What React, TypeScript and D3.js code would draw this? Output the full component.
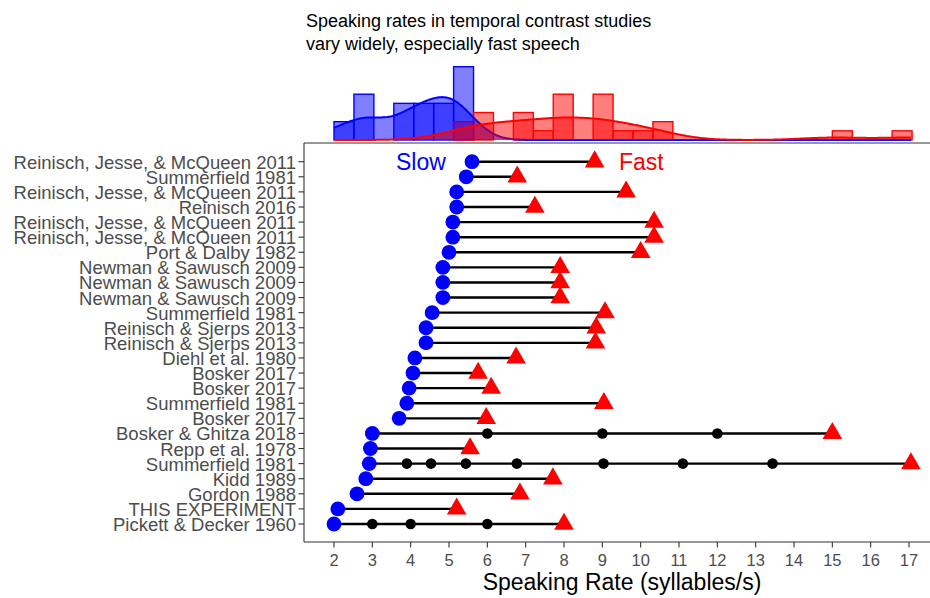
import React, { useEffect, useRef } from 'react';
import * as d3 from 'd3';

// rows, top to bottom
const studies = [
  'Reinisch, Jesse, & McQueen 2011',
  'Summerfield 1981',
  'Reinisch, Jesse, & McQueen 2011',
  'Reinisch 2016',
  'Reinisch, Jesse, & McQueen 2011',
  'Reinisch, Jesse, & McQueen 2011',
  'Port & Dalby 1982',
  'Newman & Sawusch 2009',
  'Newman & Sawusch 2009',
  'Newman & Sawusch 2009',
  'Summerfield 1981',
  'Reinisch & Sjerps 2013',
  'Reinisch & Sjerps 2013',
  'Diehl et al. 1980',
  'Bosker 2017',
  'Bosker 2017',
  'Summerfield 1981',
  'Bosker 2017',
  'Bosker & Ghitza 2018',
  'Repp et al. 1978',
  'Summerfield 1981',
  'Kidd 1989',
  'Gordon 1988',
  'THIS EXPERIMENT',
  'Pickett & Decker 1960',
];

const slowRates = [
  5.6, 5.45, 5.2, 5.2, 5.1, 5.1, 5.0, 4.84, 4.84, 4.84, 4.56, 4.4, 4.4,
  4.11, 4.06, 3.96, 3.9, 3.7, 3.0, 2.95, 2.92, 2.83, 2.6, 2.1, 2.0,
];

const fastRates = [
  8.8, 6.78, 9.62, 7.24, 10.35, 10.35, 10.0, 7.9, 7.9, 7.9, 9.07, 8.84, 8.82,
  6.75, 5.76, 6.1, 9.04, 5.97, 15.0, 5.55, 17.05, 7.71, 6.85, 5.2, 8.0,
];

// intermediate rates (row index -> values)
const midRows = [18, 20, 24];
const midRates = [
  [6, 9, 12],
  [3.9, 4.53, 5.44, 6.77, 9.03, 11.1, 13.44],
  [3, 4, 6],
];

// marginal histogram counts (bins of 0.52 starting at 2.0)
const binStart = 2.0;
const binWidth = 0.52;
const slowCounts = [2, 5, 0, 4, 4, 4, 8, 0, 0, 0, 0, 0, 0, 0, 0, 0, 0, 0, 0, 0, 0, 0, 0, 0, 0, 0, 0, 0, 0];
const fastCounts = [0, 0, 0, 0, 0, 0, 2, 3, 0, 3, 1, 5, 0, 5, 1, 1, 2, 0, 0, 0, 0, 0, 0, 0, 0, 1, 0, 0, 1];

const xTicks = d3.range(2, 18);

const FONT = '"Liberation Sans", Arial, Helvetica, sans-serif';
const BLUE = '#0000ff';
const RED = '#ff0000';

function nrd0(v: number[]) {
  const s = d3.deviation(v) as number;
  const sorted = v.slice().sort(d3.ascending);
  const iqr = (d3.quantile(sorted, 0.75) as number) - (d3.quantile(sorted, 0.25) as number);
  return 0.9 * Math.min(s, iqr / 1.34) * Math.pow(v.length, -0.2);
}

function kde(v: number[], grid: number[]) {
  const bw = nrd0(v);
  return grid.map((g) => [
    g,
    d3.mean(v, (d) => Math.exp(-0.5 * ((g - d) / bw) ** 2) / (bw * Math.sqrt(2 * Math.PI))) as number,
  ]);
}

function App() {
  const svgRef = useRef<SVGSVGElement>(null);

  useEffect(() => {
    const svg = d3.select(svgRef.current);
    svg.selectAll('*').remove();
    const width = 930;
    const height = 598;
    svg.attr('width', width).attr('height', height);

    const panel = { left: 304, right: 930, top: 143, bottom: 542 };

    const x = d3.scaleLinear().domain([2, 17]).range([334, 909]);
    const y = d3
      .scalePoint<number>()
      .domain(d3.range(studies.length))
      .range([161.7, 524]);
    const yHist = d3.scaleLinear().domain([0, 8]).range([140, 66.7]);

    // ---- marginal histogram + density
    const drawHist = (counts: number[], color: string) => {
      svg
        .append('g')
        .selectAll('rect')
        .data(counts)
        .enter()
        .append('rect')
        .attr('x', (d, i) => x(binStart + i * binWidth))
        .attr('width', x(binStart + binWidth) - x(binStart))
        .attr('y', (d) => yHist(d))
        .attr('height', (d) => yHist(0) - yHist(d))
        .attr('fill', color)
        .attr('fill-opacity', 0.5)
        .attr('stroke', color)
        .attr('stroke-width', 1.4);
    };
    drawHist(slowCounts, BLUE);
    drawHist(fastCounts, RED);

    const lo = d3.min(slowRates) as number;
    const hi = d3.max(fastRates) as number;
    const grid = d3.range(0, 513).map((i) => lo + ((hi - lo) * i) / 512);
    const drawDensity = (v: number[], color: string) => {
      const dens = kde(v, grid).map(([g, d]) => [g, d * v.length * binWidth]);
      const area = d3
        .area<number[]>()
        .x((d) => x(d[0]))
        .y0(yHist(0))
        .y1((d) => yHist(d[1]));
      const line = d3
        .line<number[]>()
        .x((d) => x(d[0]))
        .y((d) => yHist(d[1]));
      svg.append('path').attr('d', area(dens)).attr('fill', color).attr('fill-opacity', 0.5);
      svg
        .append('path')
        .attr('d', line(dens))
        .attr('fill', 'none')
        .attr('stroke', color)
        .attr('stroke-width', 2);
    };
    drawDensity(slowRates, BLUE);
    drawDensity(fastRates, RED);

    // ---- axes lines
    svg
      .append('line')
      .attr('x1', panel.left)
      .attr('x2', panel.right)
      .attr('y1', panel.top)
      .attr('y2', panel.top)
      .attr('stroke', '#333')
      .attr('stroke-width', 1.1);
    svg
      .append('line')
      .attr('x1', panel.left)
      .attr('x2', panel.right)
      .attr('y1', panel.bottom)
      .attr('y2', panel.bottom)
      .attr('stroke', '#333')
      .attr('stroke-width', 1.1);
    svg
      .append('line')
      .attr('x1', panel.left)
      .attr('x2', panel.left)
      .attr('y1', panel.top)
      .attr('y2', panel.bottom)
      .attr('stroke', '#333')
      .attr('stroke-width', 1.1);

    // x ticks
    const xg = svg.append('g');
    xg.selectAll('line')
      .data(xTicks)
      .enter()
      .append('line')
      .attr('x1', (d) => x(d))
      .attr('x2', (d) => x(d))
      .attr('y1', panel.bottom)
      .attr('y2', panel.bottom + 5.5)
      .attr('stroke', '#333')
      .attr('stroke-width', 1.1);
    xg.selectAll('text')
      .data(xTicks)
      .enter()
      .append('text')
      .attr('x', (d) => x(d))
      .attr('y', 566)
      .attr('text-anchor', 'middle')
      .attr('font-family', FONT)
      .attr('font-size', 16.5)
      .attr('fill', '#4d4d4d')
      .text((d) => d);

    svg
      .append('text')
      .attr('x', 622)
      .attr('y', 590)
      .attr('text-anchor', 'middle')
      .attr('font-family', FONT)
      .attr('font-size', 23)
      .attr('fill', '#000')
      .text('Speaking Rate (syllables/s)');

    // y ticks
    const yg = svg.append('g');
    yg.selectAll('line')
      .data(d3.range(studies.length))
      .enter()
      .append('line')
      .attr('x1', panel.left - 5.5)
      .attr('x2', panel.left)
      .attr('y1', (d) => y(d) as number)
      .attr('y2', (d) => y(d) as number)
      .attr('stroke', '#333')
      .attr('stroke-width', 1.1);
    yg.selectAll('text')
      .data(studies)
      .enter()
      .append('text')
      .attr('x', 296)
      .attr('y', (d, i) => (y(i) as number) + 7)
      .attr('text-anchor', 'end')
      .attr('font-family', FONT)
      .attr('font-size', 18.5)
      .attr('fill', '#4d4d4d')
      .text((d) => d);

    // ---- dumbbells
    const rows = d3.range(studies.length);
    svg
      .append('g')
      .selectAll('line')
      .data(rows)
      .enter()
      .append('line')
      .attr('x1', (i) => x(slowRates[i]))
      .attr('x2', (i) => x(fastRates[i]))
      .attr('y1', (i) => y(i) as number)
      .attr('y2', (i) => y(i) as number)
      .attr('stroke', '#000')
      .attr('stroke-width', 2.4);

    const mids = midRows.flatMap((r, k) => midRates[k].map((v) => ({ r, v })));
    svg
      .append('g')
      .selectAll('circle')
      .data(mids)
      .enter()
      .append('circle')
      .attr('cx', (d) => x(d.v))
      .attr('cy', (d) => y(d.r) as number)
      .attr('r', 5.3)
      .attr('fill', '#000');

    svg
      .append('g')
      .selectAll('circle')
      .data(rows)
      .enter()
      .append('circle')
      .attr('cx', (i) => x(slowRates[i]))
      .attr('cy', (i) => y(i) as number)
      .attr('r', 7.4)
      .attr('fill', BLUE);

    const s = 7.3;
    const tri = `M0,${-1.5551 * s}L${1.3468 * s},${0.7776 * s}L${-1.3468 * s},${0.7776 * s}Z`;
    svg
      .append('g')
      .selectAll('path')
      .data(rows)
      .enter()
      .append('path')
      .attr('d', tri)
      .attr('transform', (i) => `translate(${x(fastRates[i])},${y(i)})`)
      .attr('fill', RED);

    // annotations
    svg
      .append('text')
      .attr('x', 396)
      .attr('y', 170)
      .attr('font-family', FONT)
      .attr('font-size', 23)
      .attr('fill', BLUE)
      .text('Slow');
    svg
      .append('text')
      .attr('x', 619)
      .attr('y', 170)
      .attr('font-family', FONT)
      .attr('font-size', 23)
      .attr('fill', RED)
      .text('Fast');

    // title
    const title = svg
      .append('text')
      .attr('font-family', FONT)
      .attr('font-size', 18)
      .attr('fill', '#000');
    title.append('tspan').attr('x', 306).attr('y', 26.5).text('Speaking rates in temporal contrast studies');
    title.append('tspan').attr('x', 306).attr('y', 49.5).text('vary widely, especially fast speech');
  }, []);

  return (
    <div style={{ position: 'absolute', left: 0, top: 0 }}>
      <svg ref={svgRef} style={{ display: 'block' }} />
    </div>
  );
}

export default App;
